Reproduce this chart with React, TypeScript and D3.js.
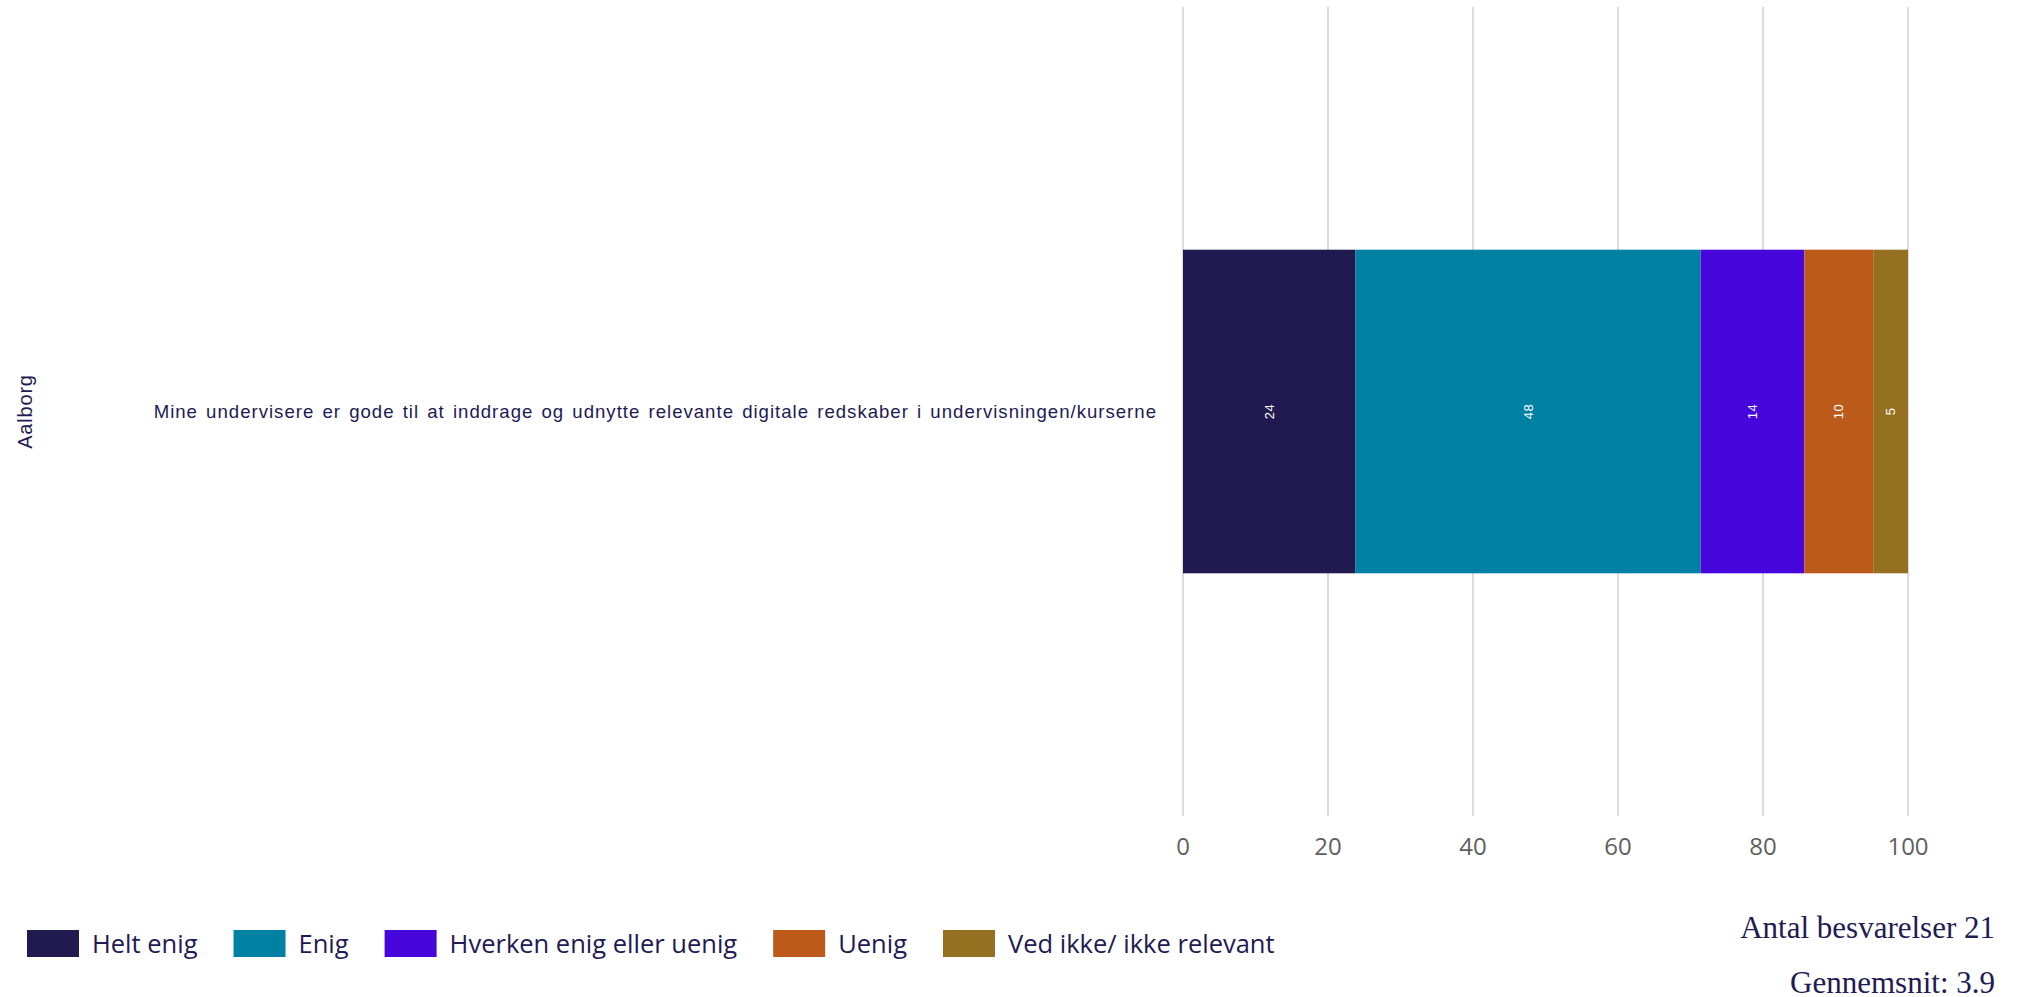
import React, { useEffect, useRef } from "react";
import * as d3 from "d3";

const categories = [
  "Mine undervisere er gode til at inddrage og udnytte relevante digitale redskaber i undervisningen/kurserne",
];
const groupLabel = "Aalborg";
const seriesNames = [
  "Helt enig",
  "Enig",
  "Hverken enig eller uenig",
  "Uenig",
  "Ved ikke/ ikke relevant",
];
const seriesValues = [23.8, 47.6, 14.3, 9.5, 4.8];
const seriesLabels = ["24", "48", "14", "10", "5"];
const seriesColors = ["#211a50", "#0080a3", "#4707dc", "#bb5a19", "#957021"];
const xTicks = [0, 20, 40, 60, 80, 100];
const footerLines = ["Antal besvarelser 21", "Gennemsnit: 3.9"];

const W = 2018;
const H = 997;

export default function App() {
  const ref = useRef<SVGSVGElement | null>(null);

  useEffect(() => {
    const svg = d3.select(ref.current);
    svg.selectAll("*").remove();

    const x = d3.scaleLinear().domain([0, 100]).range([1183, 1908]);
    const y = d3
      .scaleBand<string>()
      .domain(categories)
      .range([7, 816])
      .paddingInner(0.6)
      .paddingOuter(0.3);

    // gridlines
    svg
      .append("g")
      .selectAll("line")
      .data(xTicks)
      .join("line")
      .attr("x1", (d) => x(d))
      .attr("x2", (d) => x(d))
      .attr("y1", 7)
      .attr("y2", 816)
      .attr("stroke", "#dcdcdc")
      .attr("stroke-width", 2);

    // tick labels
    svg
      .append("g")
      .selectAll("text")
      .data(xTicks)
      .join("text")
      .attr("x", (d) => x(d))
      .attr("y", 855)
      .attr("text-anchor", "middle")
      .attr("font-family", "'Open Sans', sans-serif")
      .attr("font-size", 24)
      .attr("fill", "#5f5f5f")
      .text((d) => String(d));

    // stacked bars
    const cum: number[] = [];
    seriesValues.reduce((acc, v, i) => {
      cum[i] = acc;
      return acc + v;
    }, 0);

    categories.forEach((cat) => {
      const g = svg.append("g");
      const y0 = y(cat) as number;
      const bw = y.bandwidth();
      g.selectAll("rect")
        .data(seriesValues)
        .join("rect")
        .attr("x", (_d, i) => x(cum[i]))
        .attr("y", y0)
        .attr("width", (d, i) => x(cum[i] + d) - x(cum[i]))
        .attr("height", bw)
        .attr("fill", (_d, i) => seriesColors[i]);
      g.selectAll("text")
        .data(seriesValues)
        .join("text")
        .attr(
          "transform",
          (d, i) =>
            `translate(${x(cum[i] + d / 2)},${y0 + bw / 2}) rotate(-90)`
        )
        .attr("text-anchor", "middle")
        .attr("dominant-baseline", "central")
        .attr("font-family", "'Liberation Sans', Arial, sans-serif")
        .attr("font-size", 13)
        .attr("letter-spacing", 0.5)
        .attr("fill", "#ffffff")
        .text((_d, i) => seriesLabels[i]);

      // category label
      svg
        .append("text")
        .attr("x", 1157)
        .attr("y", y0 + bw / 2 + 6.5)
        .attr("text-anchor", "end")
        .attr("font-family", "'Liberation Sans', Arial, sans-serif")
        .attr("font-size", 18.6)
        .attr("letter-spacing", 1)
        .attr("word-spacing", 2)
        .attr("fill", "#221a52")
        .text(cat);
    });

    // group label
    svg
      .append("text")
      .attr(
        "transform",
        `translate(25,${(y(categories[0]) as number) + y.bandwidth() / 2}) rotate(-90)`
      )
      .attr("text-anchor", "middle")
      .attr("dominant-baseline", "central")
      .attr("font-family", "'Liberation Sans', Arial, sans-serif")
      .attr("font-size", 20)
      .attr("letter-spacing", 0.8)
      .attr("fill", "#221a52")
      .text(groupLabel);

    // legend
    const legend = svg.append("g");
    let lx = 27;
    seriesNames.forEach((name, i) => {
      legend
        .append("rect")
        .attr("x", lx)
        .attr("y", 930)
        .attr("width", 52)
        .attr("height", 27)
        .attr("fill", seriesColors[i]);
      const t = legend
        .append("text")
        .attr("x", lx + 65)
        .attr("y", 953)
        .attr("font-family", "'Open Sans', sans-serif")
        .attr("font-size", 25.5)
        .attr("fill", "#221a52")
        .text(name);
      const tw = (t.node() as SVGTextElement).getComputedTextLength();
      lx = lx + 65 + tw + 36;
    });

    // footer
    svg
      .append("g")
      .selectAll("text")
      .data(footerLines)
      .join("text")
      .attr("x", 1995)
      .attr("y", (_d, i) => 938 + i * 55)
      .attr("text-anchor", "end")
      .attr("font-family", "'Liberation Serif', 'Times New Roman', serif")
      .attr("font-size", 31)
      .attr("fill", "#221a52")
      .text((d) => d);
  }, []);

  return (
    <svg
      ref={ref}
      width={W}
      height={H}
      style={{ position: "absolute", left: 0, top: 0, background: "#ffffff" }}
    />
  );
}
